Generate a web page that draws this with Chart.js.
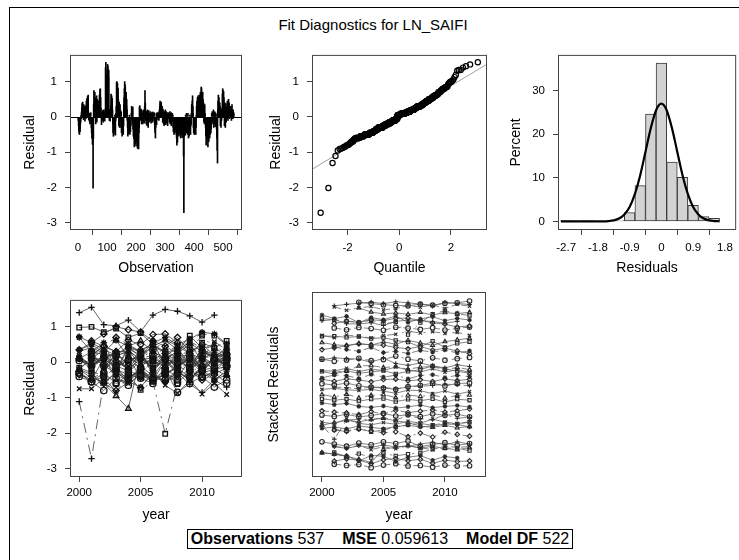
<!DOCTYPE html>
<html>
<head>
<meta charset="utf-8">
<script src="https://cdn.jsdelivr.net/npm/chart.js@4.4.0/dist/chart.umd.min.js"></script>
<style>
  html, body { margin: 0; padding: 0; background: #fff; }
  #page { position: relative; width: 739px; height: 560px; overflow: hidden; font-family: "Liberation Sans", Arial, sans-serif; color: #000; }
  #frame { position: absolute; left: 9px; top: 7px; width: 800px; height: 600px; border-left: 1px solid #000; border-top: 1px solid #000; }
  #title { position: absolute; left: 0; width: 746px; top: 16px; text-align: center; font-size: 15px; }
  canvas { position: absolute; }
  #statsRow { position: absolute; left: 0; width: 760px; top: 529px; text-align: center; }
  #stats { display: inline-block; border: 1px solid #000; font-size: 16px; line-height: 18px; padding: 0 3px; white-space: nowrap; }
  #stats b { font-weight: bold; }
  #stats .gap { display: inline-block; width: 18px; }
</style>
</head>
<body>
<div id="page">
  <div id="frame"></div>
  <div id="title">Fit Diagnostics for LN_SAIFI</div>
  <canvas id="c1" width="242" height="240" style="left:10px;top:40px"></canvas>
  <canvas id="c2" width="242" height="240" style="left:255px;top:40px"></canvas>
  <canvas id="c3" width="239" height="240" style="left:500px;top:40px"></canvas>
  <canvas id="c4" width="242" height="240" style="left:10px;top:285px"></canvas>
  <canvas id="c5" width="242" height="240" style="left:255px;top:285px"></canvas>
  <div id="statsRow"><div id="stats"><b>Observations</b> 537<span class="gap"></span><b>MSE</b> 0.059613<span class="gap"></span><b>Model DF</b> 522</div></div>
</div>
<script>
const years = [2000, 2001, 2002, 2003, 2004, 2005, 2006, 2007, 2008, 2009, 2010, 2011, 2012];

// residuals per cross section (row) and year (column), null = no observation
const unitResiduals = [
  [null,null,null,-0.10,-0.25,-0.38,-0.46,-0.50,-0.31,-0.42,-0.22,-0.15,0.04],
  [null,-0.05,0.12,0.25,0.38,0.20,0.42,0.30,0.15,-0.08,0.35,0.22,0.10],
  [null,0.28,-0.12,0.18,0.32,-0.05,0.08,0.45,0.25,0.52,0.10,0.58,0.35],
  [null,null,null,0.62,0.15,-0.08,0.05,-0.12,0.10,-0.20,0.08,-0.05,0.12],
  [-0.15,-0.30,-0.45,-0.60,-0.35,-0.78,-0.55,-2.02,-0.62,0.35,0.75,0.40,0.20],
  [0.70,0.30,0.55,-0.20,0.42,0.15,0.60,-0.15,0.25,0.50,0.05,0.32,0.12],
  [null,0.20,0.45,0.30,0.62,0.50,0.78,0.80,0.55,0.25,0.10,-0.22,-0.10],
  [null,0.12,-0.10,0.18,0.05,-0.15,0.20,0.10,-0.05,0.15,-0.12,0.08,0.22],
  [1.40,1.55,1.06,1.03,1.19,0.86,1.33,1.49,1.44,1.31,1.13,1.33,null],
  [0.18,-0.10,0.22,0.05,-0.12,0.15,0.30,0.65,0.45,0.60,0.38,0.52,0.20],
  [-0.20,-0.45,-0.55,-0.30,-0.50,-0.12,-0.38,0.05,-0.25,-0.52,-0.10,0.10,0.30],
  [0.98,1.00,0.85,0.95,0.70,0.82,0.50,0.30,-0.25,0.42,-0.30,0.15,0.35],
  [null,0.20,-0.10,-0.30,0.15,-0.45,-0.30,-0.55,-0.20,-0.40,-0.15,-0.50,-0.25],
  [0.35,0.55,0.80,1.00,0.92,0.85,0.60,0.45,0.70,0.30,0.50,0.20,-0.10],
  [-0.30,-0.55,-0.40,-0.20,-0.48,-0.35,0.05,-0.30,-0.50,-0.15,-0.42,-0.25,-0.10],
  [0.10,0.30,0.22,0.15,-0.20,0.28,-0.35,-0.55,-0.30,-0.62,-0.85,-0.50,-0.70],
  [-0.75,-0.75,-0.45,-0.82,-0.55,-0.70,-0.30,-0.65,-0.88,-0.50,-0.90,-0.60,-0.91],
  [null,-0.45,-0.30,0.28,0.32,0.10,0.20,-0.10,0.15,0.22,-0.20,0.12,-0.15],
  [0.10,-0.20,0.18,-0.12,0.05,0.20,-0.18,0.10,0.30,0.75,0.40,0.12,-0.10],
  [-0.20,0.15,0.05,-0.25,0.20,-0.10,0.12,-0.30,0.08,0.18,-0.15,0.10,-0.05],
  [0.10,-0.12,0.15,0.02,-0.18,0.08,0.12,-0.08,0.05,-0.15,0.14,-0.05,0.10],
  [0.05,-0.10,0.12,-0.20,-0.35,-0.45,-0.60,-0.30,-0.15,0.10,-0.22,0.08,0.12],
  [null,0.10,0.05,-0.08,0.12,0.08,-0.10,0.15,0.20,0.30,0.45,0.38,0.25],
  [0.30,0.42,0.25,0.18,0.30,0.10,-0.15,0.22,0.15,-0.20,0.12,-0.25,0.05],
  [0.15,-0.10,0.20,-0.22,0.08,0.15,-0.18,0.10,-0.05,0.12,-0.25,0.05,0.10],
  [0.12,-0.05,0.10,-0.15,0.08,0.15,-0.20,0.05,-0.10,0.12,-0.25,0.08,-0.05],
  [0.10,-0.10,0.05,-0.30,-0.42,-0.25,-0.50,-0.35,-0.15,-0.45,-0.30,-0.20,-0.38],
  [-0.35,-0.50,-0.60,-0.80,-0.45,-0.72,-0.30,-0.55,-0.40,-0.25,-0.50,-0.35,-0.15],
  [-0.40,-0.55,-0.30,-0.60,-0.45,-0.20,-0.50,-0.35,-0.58,-0.25,-0.42,-0.30,-0.59],
  [-1.11,-2.72,-0.55,-0.40,-0.48,-0.25,-0.52,0.05,-0.35,-0.45,0.10,-0.30,-0.20],
  [-0.30,-0.50,0.10,-0.45,-0.60,-0.35,-0.55,-0.20,-0.42,0.05,-0.30,-0.50,-0.25],
  [-0.20,0.10,0.35,0.20,0.45,0.60,0.30,0.10,-0.30,-0.45,-0.20,-0.50,-0.35],
  [null,-0.25,-0.40,-0.15,-0.50,-0.30,0.05,0.30,0.45,0.25,0.55,0.40,0.60],
  [0.35,0.50,0.28,0.62,0.45,0.30,0.55,0.70,0.50,0.65,0.85,0.80,0.52],
  [null,0.60,0.45,0.70,0.50,0.30,0.40,-0.15,0.25,-0.20,0.35,0.10,-0.10],
  [-0.30,-0.55,-0.80,-0.45,-0.65,-0.30,-0.50,-0.20,-0.85,-0.60,-0.40,-0.70,-0.50],
  [null,-0.40,-0.60,-0.30,-0.50,-0.20,-0.45,-0.35,-0.10,0.10,-0.20,0.15,-0.10],
  [null,0.10,-0.15,0.20,-0.30,0.05,-0.20,0.15,-0.10,-0.28,0.12,-0.05,0.08],
  [-0.20,-0.35,-0.60,-0.95,-1.31,0.20,0.45,0.62,0.35,0.55,0.30,0.15,0.40],
  [null,0.30,-0.25,0.15,-0.30,0.20,-0.10,0.10,0.25,0.65,0.80,0.75,0.50],
  [0.72,0.55,0.35,-0.25,0.40,0.30,-0.30,0.20,0.38,-0.15,0.28,0.10,null],
  [null,0.20,0.45,0.30,-0.10,0.35,0.50,0.25,0.40,-0.05,0.30,0.15,0.22],
  [null,0.30,0.15,0.25,-0.10,0.20,0.35,0.10,0.15,-0.05,0.20,0.08,0.12]
];

// histogram of residuals (bin midpoints, percent) and the normal density curve
const histMid = [-2.7, -2.4, -2.1, -1.8, -1.5, -1.2, -0.9, -0.6, -0.3, 0, 0.3, 0.6, 0.9, 1.2, 1.5];
const histPercent = [0.19, 0, 0.19, 0, 0, 0.19, 2.0, 8.2, 24.6, 36.3, 13.6, 10.1, 3.7, 1.1, 0.7];
const curveX = [-2.85, -2.4, -1.95, -1.65, -1.5, -1.35, -1.2, -1.05, -0.9, -0.75, -0.6, -0.45, -0.3, -0.15, 0, 0.15, 0.3, 0.45, 0.6, 0.75, 0.9, 1.05, 1.2, 1.35, 1.5, 1.65];
const curveY = [0, 0, 0, 0.02, 0.08, 0.24, 0.65, 1.6, 3.3, 6.3, 10.6, 16.0, 21.4, 25.5, 27.0, 25.5, 21.4, 16.0, 10.6, 6.3, 3.3, 1.6, 0.65, 0.24, 0.08, 0.02];

// reference line of the Q-Q panel
const qqIntercept = 0;
const qqSlope = 0.44;

const obsTicks = [0, 100, 200, 300, 400, 500];
const residTicks = [-3, -2, -1, 0, 1];
const quantileTicks = [-2, 0, 2];
const histTicks = [-2.7, -1.8, -0.9, 0, 0.9, 1.8];
const percentTicks = [0, 10, 20, 30];
const yearTicks = [2000, 2005, 2010];

// observation order: cross sections one after the other
const obsResiduals = [];
unitResiduals.forEach(row => row.forEach(v => { if (v !== null) obsResiduals.push(v); }));

function probit(p) {
  const a = [-3.969683028665376e+01, 2.209460984245205e+02, -2.759285104469687e+02, 1.383577518672690e+02, -3.066479806614716e+01, 2.506628277459239e+00];
  const b = [-5.447609879822406e+01, 1.615858368580409e+02, -1.556989798598866e+02, 6.680131188771972e+01, -1.328068155288572e+01];
  const c = [-7.784894002430293e-03, -3.223964580411365e-01, -2.400758277161838e+00, -2.549732539343734e+00, 4.374664141464968e+00, 2.938163982698783e+00];
  const d = [7.784695709041462e-03, 3.224671290700398e-01, 2.445134137142996e+00, 3.754408661907416e+00];
  const lo = 0.02425;
  if (p < lo) {
    const q = Math.sqrt(-2 * Math.log(p));
    return (((((c[0]*q+c[1])*q+c[2])*q+c[3])*q+c[4])*q+c[5]) / ((((d[0]*q+d[1])*q+d[2])*q+d[3])*q+1);
  }
  if (p > 1 - lo) {
    const q = Math.sqrt(-2 * Math.log(1 - p));
    return -(((((c[0]*q+c[1])*q+c[2])*q+c[3])*q+c[4])*q+c[5]) / ((((d[0]*q+d[1])*q+d[2])*q+d[3])*q+1);
  }
  const q = p - 0.5, r = q * q;
  return (((((a[0]*r+a[1])*r+a[2])*r+a[3])*r+a[4])*r+a[5])*q / (((((b[0]*r+b[1])*r+b[2])*r+b[3])*r+b[4])*r+1);
}

const sorted = obsResiduals.slice().sort((p, q) => p - q);
const n = sorted.length;
const qqPoints = sorted.map((r, i) => ({ x: probit((i + 1 - 0.375) / (n + 0.25)), y: r }));

const FONT = '"Liberation Sans", Arial, sans-serif';
const AXIS = '#444';
const markers = ['circle', 'cross', 'crossRot', 'triangle', 'rect', 'star', 'rectRot'];
const dashes = [[], [], [7, 3], [], [10, 5, 2, 5]];

const boxPlugin = {
  id: 'box',
  afterDraw(chart) {
    const a = chart.chartArea, ctx = chart.ctx;
    ctx.save();
    ctx.strokeStyle = AXIS;
    ctx.lineWidth = 1;
    ctx.strokeRect(a.left + 0.5, a.top + 0.5, a.right - a.left - 1, a.bottom - a.top - 1);
    ctx.restore();
  }
};

const zeroLine = {
  id: 'zeroLine',
  afterDatasetsDraw(chart) {
    const a = chart.chartArea, ctx = chart.ctx;
    const y = Math.round(chart.scales.y.getPixelForValue(0)) + 0.5;
    ctx.save();
    ctx.strokeStyle = '#000';
    ctx.lineWidth = 1;
    ctx.beginPath();
    ctx.moveTo(a.left, y);
    ctx.lineTo(a.right, y);
    ctx.stroke();
    ctx.restore();
  }
};

function fmt(v) { return String(v); }

function xAxis(min, max, ticks, title, height, titlePad, tickPad) {
  return {
    type: 'linear', min: min, max: max, offset: false,
    afterFit: s => { s.height = height; },
    afterBuildTicks: s => { s.ticks = ticks.map(v => ({ value: v })); },
    grid: { display: true, drawOnChartArea: false, drawTicks: true, tickLength: 5, color: AXIS, tickColor: AXIS },
    border: { display: false },
    ticks: { autoSkip: false, maxRotation: 0, padding: tickPad, color: '#000', font: { family: FONT, size: 11.5 }, callback: fmt },
    title: { display: true, text: title, color: '#000', font: { family: FONT, size: 14 }, padding: { top: 0, bottom: titlePad } }
  };
}

function yAxis(min, max, ticks, title, width, titlePad) {
  return {
    type: 'linear', min: min, max: max,
    afterFit: s => { s.width = width; },
    afterBuildTicks: s => { s.ticks = ticks.map(v => ({ value: v })); },
    grid: { display: true, drawOnChartArea: false, drawTicks: ticks.length > 0, tickLength: 5, color: AXIS, tickColor: AXIS },
    border: { display: false },
    ticks: { display: ticks.length > 0, autoSkip: false, padding: 8, color: '#000', font: { family: FONT, size: 11.5 }, callback: fmt },
    title: { display: true, text: title, color: '#000', font: { family: FONT, size: 14 }, padding: { top: titlePad, bottom: 0 } }
  };
}

function baseOptions(padding, scales) {
  return {
    responsive: false, animation: false, devicePixelRatio: 1,
    layout: { padding: padding },
    plugins: { legend: { display: false }, tooltip: { enabled: false } },
    scales: scales
  };
}

// residual by observation (needle plot)
new Chart(document.getElementById('c1'), {
  type: 'bar',
  data: {
    datasets: [{
      data: obsResiduals.map((r, i) => ({ x: i + 1, y: r })),
      backgroundColor: '#000', borderWidth: 0, barThickness: 1
    }]
  },
  options: baseOptions({ top: 7, right: 10, left: 0, bottom: 0 }, {
    x: xAxis(-27.6, 565.5, obsTicks, 'Observation', 50, 3, 6),
    y: yAxis(-3.21, 1.76, residTicks, 'Residual', 60, 12)
  }),
  plugins: [zeroLine, boxPlugin]
});

// Q-Q plot
new Chart(document.getElementById('c2'), {
  type: 'scatter',
  data: {
    datasets: [
      {
        data: qqPoints, pointStyle: 'circle', pointRadius: 2.6, pointBorderWidth: 1.2,
        pointBorderColor: '#000', pointBackgroundColor: 'rgba(0,0,0,0)', showLine: false
      },
      {
        data: [-3.38, 3.4].map(q => ({ x: q, y: qqIntercept + qqSlope * q })),
        showLine: true, borderColor: '#a0a0a0', borderWidth: 1, pointRadius: 0
      }
    ]
  },
  options: baseOptions({ top: 7, right: 10, left: 0, bottom: 0 }, {
    x: xAxis(-3.38, 3.4, quantileTicks, 'Quantile', 50, 3, 6),
    y: yAxis(-3.21, 1.76, residTicks, 'Residual', 57, 13)
  }),
  plugins: [boxPlugin]
});

// histogram with normal density
new Chart(document.getElementById('c3'), {
  type: 'bar',
  data: {
    datasets: [
      {
        type: 'line', data: curveX.map((x, i) => ({ x: x, y: curveY[i] })),
        borderColor: '#000', borderWidth: 2.2, pointRadius: 0, cubicInterpolationMode: 'monotone'
      },
      {
        type: 'bar', data: histMid.map((x, i) => ({ x: x, y: histPercent[i] })),
        backgroundColor: '#d3d3d3', borderColor: '#3c3c3c', borderWidth: 1, borderSkipped: false,
        barPercentage: 1, categoryPercentage: 1
      }
    ]
  },
  options: baseOptions({ top: 7, right: 2, left: 0, bottom: 0 }, {
    x: xAxis(-2.93, 2.12, histTicks, 'Residuals', 50, 3, 6),
    y: yAxis(-1.97, 38.2, percentTicks, 'Percent', 58, 8)
  }),
  plugins: [boxPlugin]
});

function unitDatasets(offsetFn, spread, radius, markColor, lineColor, markWidth) {
  return unitResiduals.map((row, k) => {
    const pts = [];
    row.forEach((v, j) => { if (v !== null) pts.push({ x: years[j], y: offsetFn(k) + spread * v }); });
    return {
      data: pts,
      borderColor: lineColor, borderWidth: 1, borderDash: dashes[k % dashes.length],
      pointStyle: markers[k % markers.length], pointRadius: radius, pointBorderWidth: markWidth,
      pointBorderColor: markColor, pointBackgroundColor: 'rgba(0,0,0,0)', tension: 0
    };
  });
}

// residual by year, one line per cross section
new Chart(document.getElementById('c4'), {
  type: 'line',
  data: { datasets: unitDatasets(k => 0, 1, 3.2, '#111', 'rgba(50,50,50,0.75)', 1.3) },
  options: baseOptions({ top: 7, right: 10, left: 0, bottom: 0 }, {
    x: xAxis(1999.25, 2013.25, yearTicks, 'year', 48, 1, 4),
    y: yAxis(-3.24, 1.76, residTicks, 'Residual', 60, 12)
  }),
  plugins: [boxPlugin]
});

// stacked residuals, each cross section shifted by its rank
new Chart(document.getElementById('c5'), {
  type: 'line',
  data: { datasets: unitDatasets(k => -k, 2.2, 2.3, '#2a2a2a', 'rgba(90,90,90,0.75)', 1.1) },
  options: baseOptions({ top: 7, right: 11, left: 0, bottom: 0 }, {
    x: xAxis(1999.19, 2013.34, yearTicks, 'year', 48, 1, 4),
    y: yAxis(-44.6, 2.4, [], 'Stacked Residuals', 57, 11)
  }),
  plugins: [boxPlugin]
});
</script>
</body>
</html>
